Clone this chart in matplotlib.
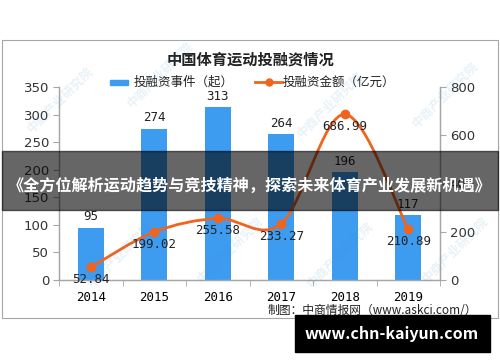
import matplotlib
matplotlib.use('Agg')
import matplotlib.pyplot as plt
from matplotlib.path import Path
from matplotlib.patches import PathPatch, Rectangle
import numpy as np

plt.rcParams['font.family'] = ['Noto Sans CJK SC', 'DejaVu Sans']
plt.rcParams['axes.unicode_minus'] = False

# 数据
years = ['2014', '2015', '2016', '2017', '2018', '2019']
events = [95, 274, 313, 264, 196, 117]
amounts = [52.84, 199.02, 255.58, 233.27, 686.99, 210.89]

bar_color = '#3D9BF0'
line_color = '#F0641E'
axis_color = '#A6A6A6'

fig = plt.figure(figsize=(5, 3.62), dpi=100)
W, H = 500, 362

def fx(px):
    return px / W

def fy(py):
    return 1 - py / H

# 外框
fig.patches.append(Rectangle((fx(2), fy(318)), fx(496), 278 / H, transform=fig.transFigure,
                             fill=False, edgecolor=axis_color, linewidth=0.8))

ax = fig.add_axes([fx(59), fy(280), fx(381), 193 / H])
ax2 = ax.twinx()

x = np.arange(len(years))
ax.bar(x, events, width=0.41, color=bar_color, zorder=2)
ax.set_ylim(0, 350)
ax.set_xlim(-0.5, len(years) - 0.5)
ax.set_yticks(range(0, 351, 50))
ax.set_xticks(x)
ax.set_xticklabels(years, fontsize=9, family='DejaVu Sans Mono')
ax.set_xticks(np.arange(-0.5, len(years), 1), minor=True)
ax.tick_params(axis='x', which='major', length=0, pad=8)
ax.tick_params(axis='x', which='minor', length=4, color=axis_color)
ax.tick_params(axis='y', length=4, color=axis_color, labelsize=9.5, pad=3)
for lab in ax.get_yticklabels():
    lab.set_family('DejaVu Sans')
    lab.set_color('#333333')

for i, v in enumerate(events):
    ax.text(i, v + 8, str(v), ha='center', va='bottom', fontsize=9,
            family='DejaVu Sans Mono', color='#222222', zorder=5)

ax2.set_ylim(0, 800)
ax2.set_yticks(range(0, 801, 200))
ax2.tick_params(axis='y', length=4, color=axis_color, labelsize=9.5, pad=3)
for lab in ax2.get_yticklabels():
    lab.set_family('DejaVu Sans')
    lab.set_color('#333333')

for a in (ax, ax2):
    a.spines['top'].set_visible(False)
    for s in ('left', 'right', 'bottom'):
        a.spines[s].set_color(axis_color)
        a.spines[s].set_linewidth(0.9)
    a.set_facecolor('none')

# 平滑曲线 (Catmull-Rom -> Bezier)
pts = np.column_stack([x, amounts]).astype(float)
verts = [tuple(pts[0])]
codes = [Path.MOVETO]
n = len(pts)
for i in range(n - 1):
    p0 = pts[i - 1] if i > 0 else pts[i]
    p1 = pts[i]
    p2 = pts[i + 1]
    p3 = pts[i + 2] if i + 2 < n else pts[i + 1]
    c1 = p1 + (p2 - p0) / 6
    c2 = p2 - (p3 - p1) / 6
    verts += [tuple(c1), tuple(c2), tuple(p2)]
    codes += [Path.CURVE4] * 3
ax2.add_patch(PathPatch(Path(verts, codes), facecolor='none', edgecolor=line_color,
                        linewidth=2.0, zorder=3))
ax2.plot(x, amounts, linestyle='none', marker='o', markersize=6, color=line_color, zorder=4)
for i, v in enumerate(amounts):
    ax2.text(i, v - 25, f'{v:.2f}', ha='center', va='top', fontsize=9,
             family='DejaVu Sans Mono', color='#222222', zorder=5)

# 标题与图例
fig.text(fx(251), fy(60), '中国体育运动投融资情况', ha='center', va='center',
         fontsize=11, fontweight='bold', color='#222222')
fig.patches.append(Rectangle((fx(110), fy(85)), fx(18), 5 / H, transform=fig.transFigure,
                             color=bar_color))
fig.text(fx(134), fy(82), '投融资事件（起）', ha='left', va='center', fontsize=9, color='#222222')
fig.lines.append(plt.Line2D([fx(255), fx(282)], [fy(82), fy(82)], transform=fig.transFigure,
                            color=line_color, linewidth=2.0))
fig.lines.append(plt.Line2D([fx(268.5)], [fy(82)], transform=fig.transFigure,
                            color=line_color, marker='o', markersize=5))
fig.text(fx(283), fy(82), '投融资金额（亿元）', ha='left', va='center', fontsize=9, color='#222222')

fig.text(fx(477), fy(310), '制图：中商情报网（www.askci.com/）', ha='right', va='center',
         fontsize=8.5, color='#222222')

# 水印
for wx, wy in [(60, 100), (160, 75), (230, 250), (330, 105), (445, 95),
               (120, 255), (340, 255), (455, 250)]:
    fig.text(fx(wx), fy(wy), '中商产业研究院', rotation=45, ha='center', va='center',
             fontsize=9, color='#4A90C8', alpha=0.12, fontweight='bold')

# 横幅
fig.patches.append(Rectangle((fx(2), fy(210)), fx(496), 59 / H, transform=fig.transFigure,
                             color='black', alpha=0.6, zorder=10))
fig.text(fx(250), fy(186), '《全方位解析运动趋势与竞技精神，探索未来体育产业发展新机遇》',
         ha='center', va='center', fontsize=11.6, fontweight='bold', color='white', zorder=11)

# 底部网址
fig.patches.append(Rectangle((fx(295), fy(352)), fx(195), 37 / H, transform=fig.transFigure,
                             color='black', zorder=10))
fig.text(fx(392), fy(334), 'www.chn-kaiyun.com', ha='center', va='center',
         fontsize=11.5, fontweight='bold', color='white', zorder=11)

fig.savefig('out.png', dpi=100)
